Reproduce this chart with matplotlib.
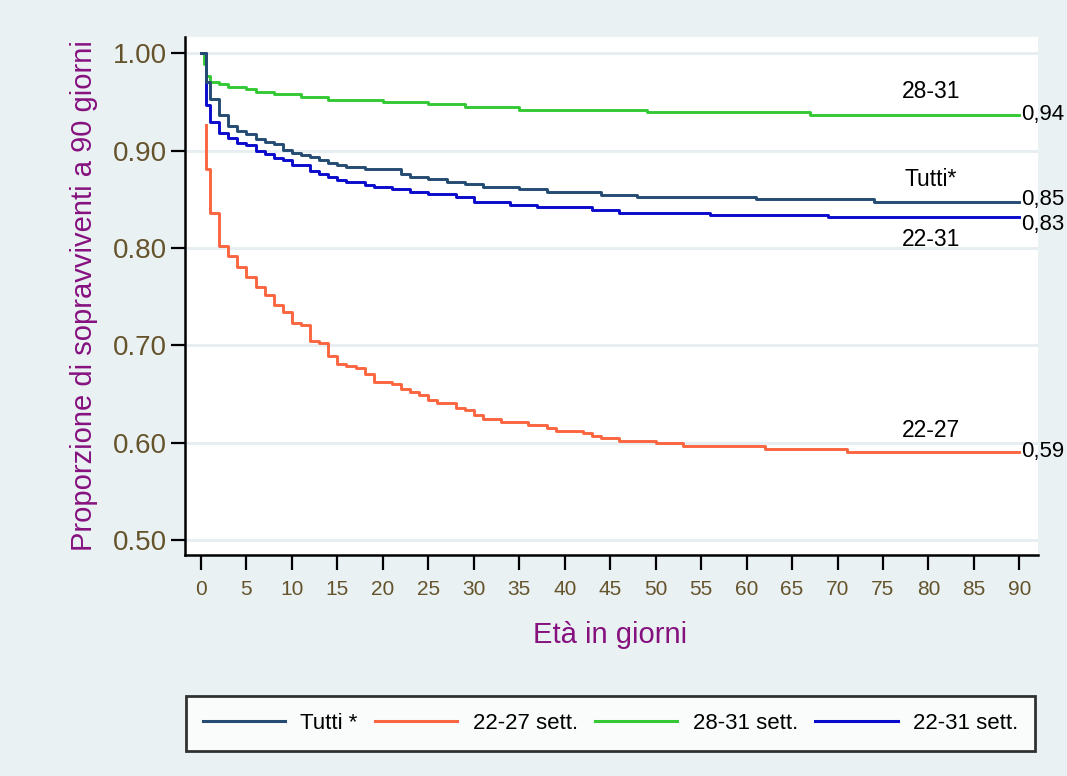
import matplotlib.pyplot as plt
from matplotlib.lines import Line2D

plt.rcParams['font.family'] = ['Liberation Sans', 'DejaVu Sans']

# Kaplan-Meier steps (day, survival)
days_tutti = [0, 0.5, 1, 2, 3, 4, 5, 6, 7, 8, 9, 10, 11, 12, 13, 14, 15, 16, 18,
              22, 23, 25, 27, 29, 31, 35, 38, 44, 48, 61, 74]
surv_tutti = [1.0, 0.971, 0.953, 0.937, 0.925, 0.9205, 0.917, 0.912, 0.909, 0.9066,
              0.901, 0.898, 0.896, 0.893, 0.890, 0.887, 0.885, 0.883, 0.881,
              0.876, 0.8733, 0.8706, 0.8679, 0.8655, 0.8624, 0.8604, 0.8573,
              0.8549, 0.8522, 0.850, 0.847]

days_2227 = [0.5, 0.5, 1, 2, 3, 4, 5, 6, 7, 8, 9, 10, 11, 12, 13, 14, 15, 16, 17,
             18, 19, 21, 22, 23, 24, 25, 26, 28, 29, 30, 31, 33, 36, 38, 39, 42,
             43, 44, 46, 50, 53, 62, 71]
surv_2227 = [0.926, 0.881, 0.836, 0.802, 0.792, 0.781, 0.770, 0.760, 0.752, 0.742,
             0.734, 0.723, 0.721, 0.705, 0.703, 0.689, 0.681, 0.679, 0.677, 0.671,
             0.662, 0.660, 0.655, 0.652, 0.6495, 0.644, 0.6413, 0.636, 0.634,
             0.629, 0.625, 0.621, 0.618, 0.615, 0.612, 0.6105, 0.607, 0.605,
             0.602, 0.5996, 0.597, 0.594, 0.591]

days_2831 = [0, 0.3, 0.5, 1, 2, 3, 5, 6, 8, 11, 14, 20, 25, 29, 35, 49, 67]
surv_2831 = [1.0, 0.989, 0.977, 0.971, 0.9685, 0.9657, 0.963, 0.960, 0.958, 0.955,
             0.952, 0.9497, 0.9476, 0.9446, 0.9418, 0.9394, 0.9367]

days_2231 = [0, 0.5, 1, 2, 3, 4, 5, 6, 7, 8, 9, 10, 12, 13, 14, 15, 16, 18, 19,
             21, 23, 25, 28, 30, 34, 37, 43, 46, 56, 69]
surv_2231 = [1.0, 0.947, 0.929, 0.918, 0.913, 0.908, 0.906, 0.900, 0.897, 0.892,
             0.890, 0.885, 0.879, 0.876, 0.873, 0.870, 0.868, 0.865, 0.863,
             0.8604, 0.858, 0.8552, 0.8522, 0.847, 0.8443, 0.8419, 0.8391,
             0.8363, 0.834, 0.8316]

legend_labels = ['Tutti *', '22-27 sett.', '28-31 sett.', '22-31 sett.']
curve_names = ['Tutti*', '22-27', '28-31', '22-31']
colors = ['#244b72', '#fb6540', '#34c934', '#0a0acc']
x_ticks = list(range(0, 95, 5))
y_ticks = [0.5, 0.6, 0.7, 0.8, 0.9, 1.0]
end_day = 90

bg = '#eaf1f3'
tick_col = '#65532c'
title_col = '#85117f'

fig = plt.figure(figsize=(10.67, 7.76), dpi=100, facecolor=bg)
ax = fig.add_axes([185 / 1067, 1 - 555 / 776, 853 / 1067, 518 / 776])
ax.set_facecolor('white')

for y in y_ticks:
    ax.axhline(y, color='#e6eef1', lw=2, zorder=0)

series = [(days_tutti, surv_tutti), (days_2227, surv_2227),
          (days_2831, surv_2831), (days_2231, surv_2231)]
order = [1, 2, 3, 0]
for i in order:
    d, s = series[i]
    ax.step(list(d) + [end_day], list(s) + [s[-1]], where='post',
            color=colors[i], lw=2.1, zorder=3 + order.index(i))

# end values and group names
name_dy = [0.023, 0.022, 0.024, -0.023]
value_dy = [2, 0, 0, -5]
for i, (d, s) in enumerate(series):
    last = s[-1]
    ax.annotate(f"{last:.2f}".replace('.', ','), xy=(end_day, last),
                xytext=(1, value_dy[i]), textcoords='offset points',
                ha='left', va='center', fontsize=16, color='black',
                annotation_clip=False)
    ax.text(80.3, last + name_dy[i], curve_names[i], ha='center', va='center',
            fontsize=16.5, color='black')

ax.set_xlim(-1.76, 92.05)
ax.set_ylim(0.4849, 1.0167)
ax.set_xticks(x_ticks)
ax.set_yticks(y_ticks)
ax.set_yticklabels([f"{v:.2f}" for v in y_ticks])
ax.tick_params(axis='y', length=10, width=1.6, labelsize=20,
               labelcolor=tick_col, pad=3)
ax.tick_params(axis='x', length=11, width=1.6, labelsize=15,
               labelcolor=tick_col, pad=7)

for side in ['top', 'right']:
    ax.spines[side].set_visible(False)
for side in ['left', 'bottom']:
    ax.spines[side].set_linewidth(1.8)

ax.set_ylabel('Proporzione di sopravviventi a 90 giorni', fontsize=21,
              color=title_col)
ax.yaxis.set_label_coords(-0.102, 0.5)
ax.set_xlabel('Età in giorni', fontsize=21, color=title_col)
ax.xaxis.set_label_coords(0.498, -0.127)

handles = [Line2D([0], [0], color=c, lw=2.2) for c in colors]
leg = fig.legend(handles, legend_labels, loc='center', ncol=4, mode='expand',
                 bbox_to_anchor=(186 / 1067, 1 - 750 / 776, 849 / 1067, 53 / 776),
                 fontsize=16, handlelength=3.7, handletextpad=0.7,
                 borderpad=0.75, frameon=True, fancybox=False, borderaxespad=0)
leg.get_frame().set_edgecolor('black')
leg.get_frame().set_linewidth(2)
leg.get_frame().set_facecolor('white')

fig.savefig('out.png', dpi=100, facecolor=bg)
